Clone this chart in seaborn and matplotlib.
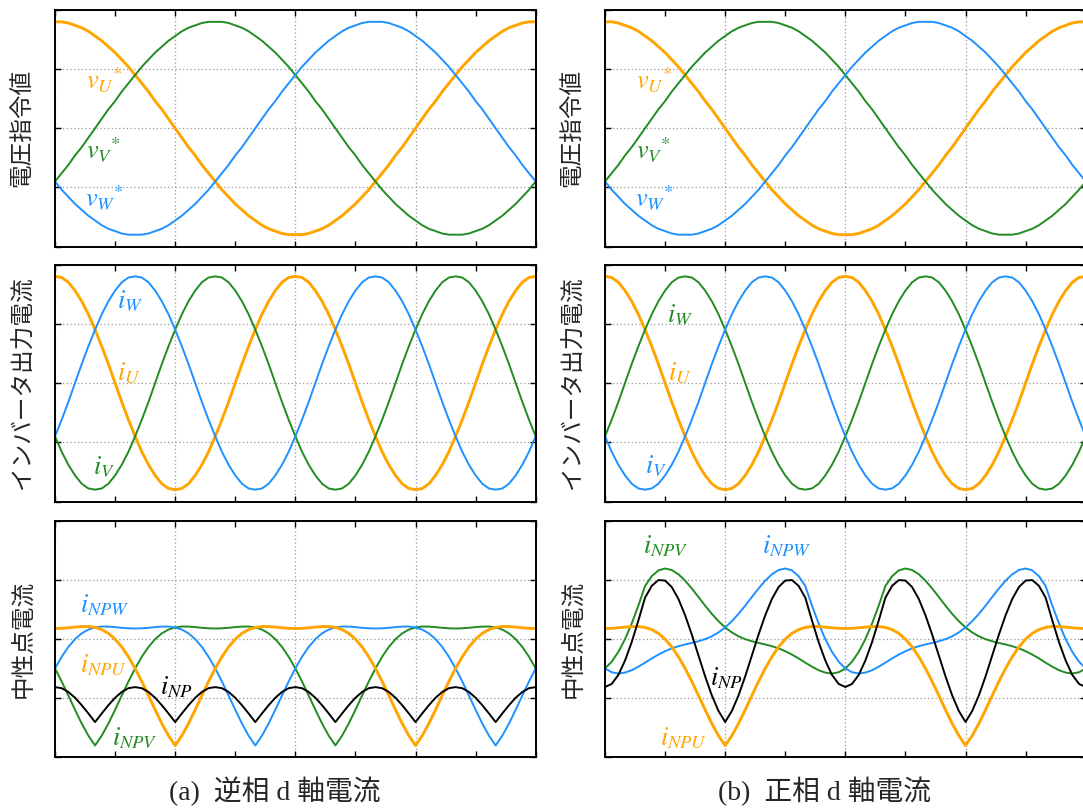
import matplotlib
matplotlib.use("Agg")
import matplotlib.pyplot as plt
import seaborn as sns
from matplotlib.ticker import MultipleLocator

# electrical angle [deg], sampled every 5 deg over one fundamental period
theta = list(range(0, 361, 5))

# ---- voltage references (shared by both cases) ----
v_u = [0.90, 0.90, 0.89, 0.87, 0.85, 0.82, 0.78, 0.74, 0.69, 0.64, 0.58, 0.52, 0.45, 0.38, 0.31, 0.23, 0.16, 0.08,
       0.00, -0.08, -0.16, -0.23, -0.31, -0.38, -0.45, -0.52, -0.58, -0.64, -0.69, -0.74, -0.78, -0.82, -0.85, -0.87,
       -0.89, -0.90, -0.90, -0.90, -0.89, -0.87, -0.85, -0.82, -0.78, -0.74, -0.69, -0.64, -0.58, -0.52, -0.45, -0.38,
       -0.31, -0.23, -0.16, -0.08, 0.00, 0.08, 0.16, 0.23, 0.31, 0.38, 0.45, 0.52, 0.58, 0.64, 0.69, 0.74, 0.78, 0.82,
       0.85, 0.87, 0.89, 0.90, 0.90]
v_v = [-0.45, -0.38, -0.31, -0.23, -0.16, -0.08, 0.00, 0.08, 0.16, 0.23, 0.31, 0.38, 0.45, 0.52, 0.58, 0.64, 0.69,
       0.74, 0.78, 0.82, 0.85, 0.87, 0.89, 0.90, 0.90, 0.90, 0.89, 0.87, 0.85, 0.82, 0.78, 0.74, 0.69, 0.64, 0.58, 0.52,
       0.45, 0.38, 0.31, 0.23, 0.16, 0.08, 0.00, -0.08, -0.16, -0.23, -0.31, -0.38, -0.45, -0.52, -0.58, -0.64, -0.69,
       -0.74, -0.78, -0.82, -0.85, -0.87, -0.89, -0.90, -0.90, -0.90, -0.89, -0.87, -0.85, -0.82, -0.78, -0.74, -0.69,
       -0.64, -0.58, -0.52, -0.45]
v_w = [-0.45, -0.52, -0.58, -0.64, -0.69, -0.74, -0.78, -0.82, -0.85, -0.87, -0.89, -0.90, -0.90, -0.90, -0.89, -0.87,
       -0.85, -0.82, -0.78, -0.74, -0.69, -0.64, -0.58, -0.52, -0.45, -0.38, -0.31, -0.23, -0.16, -0.08, 0.00, 0.08,
       0.16, 0.23, 0.31, 0.38, 0.45, 0.52, 0.58, 0.64, 0.69, 0.74, 0.78, 0.82, 0.85, 0.87, 0.89, 0.90, 0.90, 0.90, 0.89,
       0.87, 0.85, 0.82, 0.78, 0.74, 0.69, 0.64, 0.58, 0.52, 0.45, 0.38, 0.31, 0.23, 0.16, 0.08, 0.00, -0.08, -0.16,
       -0.23, -0.31, -0.38, -0.45]

# ---- inverter output currents ----
i_u = [0.90, 0.89, 0.85, 0.78, 0.69, 0.58, 0.45, 0.31, 0.16, 0.00, -0.16, -0.31, -0.45, -0.58, -0.69, -0.78, -0.85,
       -0.89, -0.90, -0.89, -0.85, -0.78, -0.69, -0.58, -0.45, -0.31, -0.16, 0.00, 0.16, 0.31, 0.45, 0.58, 0.69, 0.78,
       0.85, 0.89, 0.90, 0.89, 0.85, 0.78, 0.69, 0.58, 0.45, 0.31, 0.16, 0.00, -0.16, -0.31, -0.45, -0.58, -0.69,
       -0.78, -0.85, -0.89, -0.90, -0.89, -0.85, -0.78, -0.69, -0.58, -0.45, -0.31, -0.16, 0.00, 0.16, 0.31, 0.45,
       0.58, 0.69, 0.78, 0.85, 0.89, 0.90]
i_v = [-0.45, -0.58, -0.69, -0.78, -0.85, -0.89, -0.90, -0.89, -0.85, -0.78, -0.69, -0.58, -0.45, -0.31, -0.16, 0.00,
       0.16, 0.31, 0.45, 0.58, 0.69, 0.78, 0.85, 0.89, 0.90, 0.89, 0.85, 0.78, 0.69, 0.58, 0.45, 0.31, 0.16, 0.00,
       -0.16, -0.31, -0.45, -0.58, -0.69, -0.78, -0.85, -0.89, -0.90, -0.89, -0.85, -0.78, -0.69, -0.58, -0.45, -0.31,
       -0.16, 0.00, 0.16, 0.31, 0.45, 0.58, 0.69, 0.78, 0.85, 0.89, 0.90, 0.89, 0.85, 0.78, 0.69, 0.58, 0.45, 0.31,
       0.16, 0.00, -0.16, -0.31, -0.45]
i_w = [-0.45, -0.31, -0.16, 0.00, 0.16, 0.31, 0.45, 0.58, 0.69, 0.78, 0.85, 0.89, 0.90, 0.89, 0.85, 0.78, 0.69, 0.58,
       0.45, 0.31, 0.16, 0.00, -0.16, -0.31, -0.45, -0.58, -0.69, -0.78, -0.85, -0.89, -0.90, -0.89, -0.85, -0.78,
       -0.69, -0.58, -0.45, -0.31, -0.16, 0.00, 0.16, 0.31, 0.45, 0.58, 0.69, 0.78, 0.85, 0.89, 0.90, 0.89, 0.85, 0.78,
       0.69, 0.58, 0.45, 0.31, 0.16, 0.00, -0.16, -0.31, -0.45, -0.58, -0.69, -0.78, -0.85, -0.89, -0.90, -0.89,
       -0.85, -0.78, -0.69, -0.58, -0.45]

# ---- neutral-point currents ----
i_npu = [0.090, 0.092, 0.096, 0.102, 0.106, 0.107, 0.099, 0.081, 0.049, 0.000, -0.066, -0.149, -0.248, -0.358,
         -0.477, -0.598, -0.714, -0.817, -0.900, -0.817, -0.714, -0.598, -0.477, -0.358, -0.248, -0.149, -0.066,
         0.000, 0.049, 0.081, 0.099, 0.107, 0.106, 0.102, 0.096, 0.092,
         0.090, 0.092, 0.096, 0.102, 0.106, 0.107, 0.099, 0.081, 0.049, 0.000, -0.066, -0.149, -0.248, -0.358,
         -0.477, -0.598, -0.714, -0.817, -0.900, -0.817, -0.714, -0.598, -0.477, -0.358, -0.248, -0.149, -0.066,
         0.000, 0.049, 0.081, 0.099, 0.107, 0.106, 0.102, 0.096, 0.092, 0.090]

# (a) negative-sequence d-axis current
i_npv_neg = [-0.248, -0.358, -0.477, -0.598, -0.714, -0.817, -0.900, -0.817, -0.714, -0.598, -0.477, -0.358, -0.248,
             -0.149, -0.066, 0.000, 0.049, 0.081, 0.099, 0.107, 0.106, 0.102, 0.096, 0.092, 0.090, 0.092, 0.096,
             0.102, 0.106, 0.107, 0.099, 0.081, 0.049, 0.000, -0.066, -0.149,
             -0.248, -0.358, -0.477, -0.598, -0.714, -0.817, -0.900, -0.817, -0.714, -0.598, -0.477, -0.358, -0.248,
             -0.149, -0.066, 0.000, 0.049, 0.081, 0.099, 0.107, 0.106, 0.102, 0.096, 0.092, 0.090, 0.092, 0.096,
             0.102, 0.106, 0.107, 0.099, 0.081, 0.049, 0.000, -0.066, -0.149, -0.248]
i_npw_neg = [-0.248, -0.149, -0.066, 0.000, 0.049, 0.081, 0.099, 0.107, 0.106, 0.102, 0.096, 0.092, 0.090, 0.092,
             0.096, 0.102, 0.106, 0.107, 0.099, 0.081, 0.049, 0.000, -0.066, -0.149, -0.248, -0.358, -0.477, -0.598,
             -0.714, -0.817, -0.900, -0.817, -0.714, -0.598, -0.477, -0.358,
             -0.248, -0.149, -0.066, 0.000, 0.049, 0.081, 0.099, 0.107, 0.106, 0.102, 0.096, 0.092, 0.090, 0.092,
             0.096, 0.102, 0.106, 0.107, 0.099, 0.081, 0.049, 0.000, -0.066, -0.149, -0.248, -0.358, -0.477, -0.598,
             -0.714, -0.817, -0.900, -0.817, -0.714, -0.598, -0.477, -0.358, -0.248]
i_np_neg = [-0.406, -0.415, -0.447, -0.496, -0.559, -0.629, -0.702, -0.629, -0.559, -0.496, -0.447, -0.415,
            -0.406, -0.415, -0.447, -0.496, -0.559, -0.629, -0.702, -0.629, -0.559, -0.496, -0.447, -0.415,
            -0.406, -0.415, -0.447, -0.496, -0.559, -0.629, -0.702, -0.629, -0.559, -0.496, -0.447, -0.415,
            -0.406, -0.415, -0.447, -0.496, -0.559, -0.629, -0.702, -0.629, -0.559, -0.496, -0.447, -0.415,
            -0.406, -0.415, -0.447, -0.496, -0.559, -0.629, -0.702, -0.629, -0.559, -0.496, -0.447, -0.415,
            -0.406, -0.415, -0.447, -0.496, -0.559, -0.629, -0.702, -0.629, -0.559, -0.496, -0.447, -0.415,
            -0.406]

# (b) positive-sequence d-axis current
i_npv_pos = [-0.248, -0.191, -0.108, 0.000, 0.132, 0.284, 0.450, 0.533, 0.582, 0.598, 0.585, 0.549, 0.495, 0.429,
             0.357, 0.283, 0.214, 0.152, 0.099, 0.057, 0.024, 0.000, -0.018, -0.032, -0.045, -0.060, -0.078, -0.102,
             -0.131, -0.163, -0.199, -0.233, -0.263, -0.283, -0.291, -0.280,
             -0.248, -0.191, -0.108, 0.000, 0.132, 0.284, 0.450, 0.533, 0.582, 0.598, 0.585, 0.549, 0.495, 0.429,
             0.357, 0.283, 0.214, 0.152, 0.099, 0.057, 0.024, 0.000, -0.018, -0.032, -0.045, -0.060, -0.078, -0.102,
             -0.131, -0.163, -0.199, -0.233, -0.263, -0.283, -0.291, -0.280, -0.248]
i_npw_pos = [-0.248, -0.280, -0.291, -0.283, -0.263, -0.233, -0.199, -0.163, -0.131, -0.102, -0.078, -0.060, -0.045,
             -0.032, -0.018, 0.000, 0.024, 0.057, 0.099, 0.152, 0.214, 0.283, 0.357, 0.429, 0.495, 0.549, 0.585,
             0.598, 0.582, 0.533, 0.450, 0.284, 0.132, 0.000, -0.108, -0.191,
             -0.248, -0.280, -0.291, -0.283, -0.263, -0.233, -0.199, -0.163, -0.131, -0.102, -0.078, -0.060, -0.045,
             -0.032, -0.018, 0.000, 0.024, 0.057, 0.099, 0.152, 0.214, 0.283, 0.357, 0.429, 0.495, 0.549, 0.585,
             0.598, 0.582, 0.533, 0.450, 0.284, 0.132, 0.000, -0.108, -0.191, -0.248]
i_np_pos = [-0.405, -0.379, -0.303, -0.181, -0.025, 0.158, 0.351, 0.451, 0.500, 0.496, 0.441, 0.340, 0.202, 0.039,
            -0.138, -0.315, -0.476, -0.608, -0.701, -0.608, -0.476, -0.315, -0.138, 0.039, 0.202, 0.340, 0.441,
            0.496, 0.500, 0.451, 0.351, 0.158, -0.025, -0.181, -0.303, -0.379,
            -0.405, -0.379, -0.303, -0.181, -0.025, 0.158, 0.351, 0.451, 0.500, 0.496, 0.441, 0.340, 0.202, 0.039,
            -0.138, -0.315, -0.476, -0.608, -0.701, -0.608, -0.476, -0.315, -0.138, 0.039, 0.202, 0.340, 0.441,
            0.496, 0.500, 0.451, 0.351, 0.158, -0.025, -0.181, -0.303, -0.379, -0.405]

row_titles = ["電圧指令値", "インバータ出力電流", "中性点電流"]
captions = ["(a)  逆相 d 軸電流", "(b)  正相 d 軸電流"]

ORANGE = "#FFA500"
GREEN = "#228B22"
BLUE = "#1E90FF"
BLACK = "#000000"

sns.set_theme(style="ticks")
plt.rcParams["font.family"] = ["Liberation Serif", "Noto Sans CJK JP"]
plt.rcParams["mathtext.fontset"] = "stix"

W, H = 1083, 809
fig = plt.figure(figsize=(W / 100, H / 100), dpi=100)

col_left = [55, 605]
col_width = 480.7
rows = [(10, 246.5), (264.5, 501.5), (521, 757.3)]
LABEL_SIZE = 19

# per panel: list of (values, colour, linewidth, label, label_x, label_y)
panels = {
    (0, 0): [(v_u, ORANGE, 2.1, r"$v_U{}^{*}$", 23, 0.33),
             (v_v, GREEN, 1.4, r"$v_V{}^{*}$", 23, -0.26),
             (v_w, BLUE, 1.4, r"$v_W{}^{*}$", 22.5, -0.67)],
    (0, 1): [(v_u, ORANGE, 2.1, r"$v_U{}^{*}$", 23, 0.33),
             (v_v, GREEN, 1.4, r"$v_V{}^{*}$", 23, -0.26),
             (v_w, BLUE, 1.4, r"$v_W{}^{*}$", 22.5, -0.67)],
    (1, 0): [(i_u, ORANGE, 2.1, r"$i_U$", 46.4, 0.02),
             (i_v, GREEN, 1.4, r"$i_V$", 28.5, -0.77),
             (i_w, BLUE, 1.4, r"$i_W$", 46.4, 0.63)],
    (1, 1): [(i_u, ORANGE, 2.1, r"$i_U$", 47.2, 0.02),
             (i_w, GREEN, 1.4, r"$i_W$", 46.4, 0.51),
             (i_v, BLUE, 1.4, r"$i_V$", 30, -0.76)],
    (2, 0): [(i_npv_neg, GREEN, 1.4, r"$i_{NPV}$", 42.7, -0.90),
             (i_npw_neg, BLUE, 1.4, r"$i_{NPW}$", 18.7, 0.23),
             (i_npu, ORANGE, 2.1, r"$i_{NPU}$", 18.7, -0.28),
             (i_np_neg, BLACK, 1.4, r"$i_{NP}$", 78.6, -0.47)],
    (2, 1): [(i_npv_pos, GREEN, 1.4, r"$i_{NPV}$", 28.5, 0.73),
             (i_npw_pos, BLUE, 1.4, r"$i_{NPW}$", 117.6, 0.73),
             (i_npu, ORANGE, 2.1, r"$i_{NPU}$", 41.2, -0.90),
             (i_np_pos, BLACK, 1.4, r"$i_{NP}$", 78.6, -0.39)],
}

for (r, c), series in panels.items():
    top, bot = rows[r]
    ax = fig.add_axes([col_left[c] / W, 1 - bot / H, col_width / W, (bot - top) / H])
    for vals, colour, lw, label, lx, ly in series:
        sns.lineplot(x=theta, y=vals, ax=ax, color=colour, linewidth=lw)
        ax.text(lx, ly, label, color=colour, fontsize=LABEL_SIZE, ha="left", va="baseline")
    ax.set_xlim(0, 360)
    ax.set_ylim(-1, 1)
    ax.xaxis.set_major_locator(MultipleLocator(90))
    ax.xaxis.set_minor_locator(MultipleLocator(45))
    ax.yaxis.set_major_locator(MultipleLocator(0.5))
    ax.grid(True, which="major", color="#9a9a9a", linestyle=(0, (1, 2)), linewidth=0.9)
    ax.set_axisbelow(True)
    ax.tick_params(which="both", direction="in", length=4, width=1.0, color="black",
                   top=True, right=True, bottom=True, left=True,
                   labelbottom=False, labelleft=False)
    for sp in ax.spines.values():
        sp.set_linewidth(1.4)
        sp.set_color("black")
    ax.set_xlabel("")
    ax.set_ylabel("")
    yc = (top + bot) / 2
    fig.text((col_left[c] - 32) / W, 1 - yc / H, row_titles[r], rotation=90,
             ha="center", va="center", fontsize=17, family="Noto Sans CJK JP")

for c, cap in enumerate(captions):
    fig.text((col_left[c] - 42 + (col_width + 42) / 2) / W, 1 - 791 / H, cap,
             ha="center", va="center", fontsize=20,
             family=["Liberation Serif", "Noto Sans CJK JP"])

fig.savefig("out.png", dpi=100)
